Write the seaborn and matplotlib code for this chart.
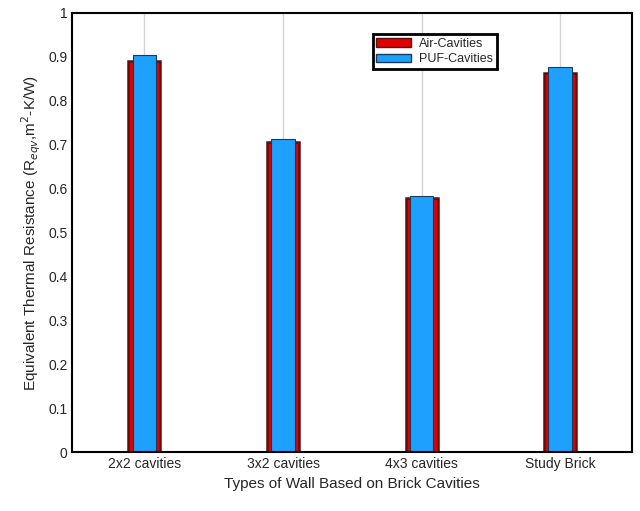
import matplotlib
matplotlib.use('Agg')
import matplotlib.pyplot as plt
import seaborn as sns
import pandas as pd
from matplotlib.patches import Patch

categories = ['2x2 cavities', '3x2 cavities', '4x3 cavities', 'Study Brick']
air_vals = [0.890, 0.705, 0.578, 0.862]
puf_vals = [0.905, 0.713, 0.582, 0.876]

df_air = pd.DataFrame({'wall': categories, 'R': air_vals})
df_puf = pd.DataFrame({'wall': categories, 'R': puf_vals})

sns.set_style('white')
plt.rcParams['font.family'] = ['Arial', 'Liberation Sans', 'DejaVu Sans']

fig, ax = plt.subplots(figsize=(6.4, 5.11), dpi=100)
fig.subplots_adjust(left=0.113, right=0.988, top=0.975, bottom=0.115)

sns.barplot(data=df_air, x='wall', y='R', color='#e00000', width=0.23,
            edgecolor='#5a1010', linewidth=1.8, saturation=1, ax=ax)
sns.barplot(data=df_puf, x='wall', y='R', color='#1ea0ff', width=0.17,
            edgecolor='#1a3a5a', linewidth=0.8, saturation=1, ax=ax)

# grid after barplot, seaborn turns it off on categorical axis
ax.set_axisbelow(True)
ax.xaxis.grid(True, color='#d4d4d4', linewidth=1.0)

ax.set_xlim(-0.52, 3.52)
ax.set_ylim(0, 1)
ax.set_yticks([i / 10 for i in range(11)])
ax.set_yticklabels(['0', '0.1', '0.2', '0.3', '0.4', '0.5', '0.6', '0.7', '0.8', '0.9', '1'])
ax.tick_params(labelsize=10, direction='in', length=4, color='#222222')
ax.set_xlabel('Types of Wall Based on Brick Cavities', fontsize=11)
ax.set_ylabel('Equivalent Thermal Resistance (R$_{eqv}$,m$^2$-K/W)', fontsize=11)
for s in ax.spines.values():
    s.set_linewidth(1.5)
    s.set_color('black')

handles = [Patch(facecolor='#e00000', edgecolor='#5a1010'),
           Patch(facecolor='#1ea0ff', edgecolor='#1a3a5a')]
leg = ax.legend(handles, ['Air-Cavities', 'PUF-Cavities'], loc='upper left',
                bbox_to_anchor=(0.525, 0.965), fontsize=9, frameon=True,
                fancybox=False, framealpha=1, borderpad=0.3,
                handlelength=2.8, handletextpad=0.6, labelspacing=0.25)
leg.get_frame().set_edgecolor('black')
leg.get_frame().set_linewidth(2)

fig.savefig('out.png', dpi=100)
